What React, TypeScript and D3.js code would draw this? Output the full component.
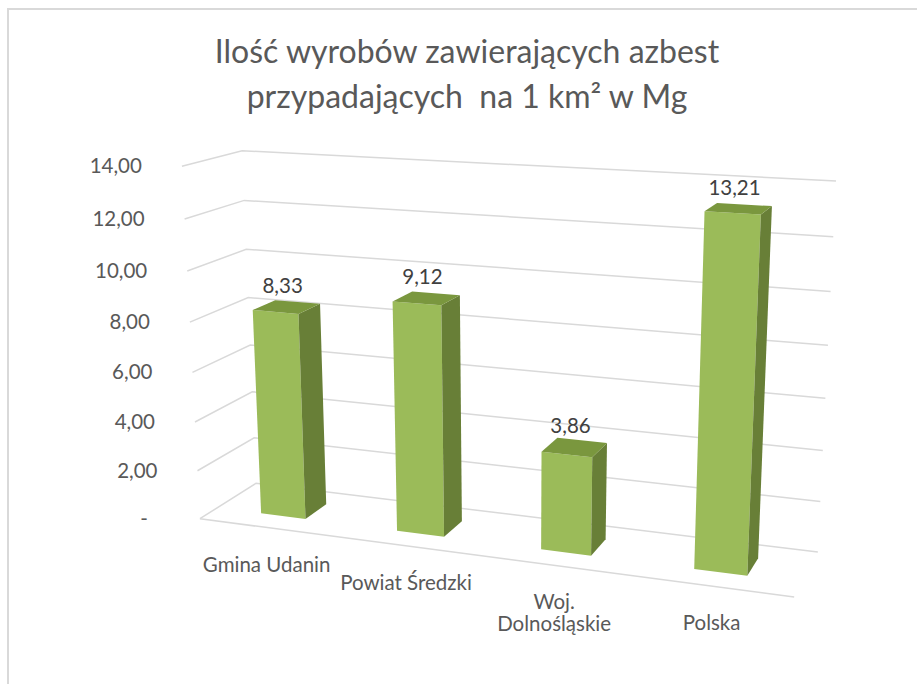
import React, { useEffect, useRef } from 'react'
import * as d3 from 'd3'

const categories = ['Gmina Udanin', 'Powiat Średzki', 'Woj. Dolnośląskie', 'Polska']
const categoryLines = [['Gmina Udanin'], ['Powiat Średzki'], ['Woj.', 'Dolnośląskie'], ['Polska']]
const values = [8.33, 9.12, 3.86, 13.21]
const yTicks = [0, 2, 4, 6, 8, 10, 12, 14]
const titleLines = ['Ilość wyrobów zawierających azbest', 'przypadających  na 1 km² w Mg']

// 3D box corners (X along categories, Y depth, Z height, all 0..1) and where they land on screen
const boxCorners: number[][] = [
  [0, 0, 0, 200, 519],
  [0, 0, 1, 182, 166],
  [0, 1, 0, 256, 483],
  [0, 1, 1, 242, 151],
  [1, 1, 0, 818, 552],
  [1, 1, 1, 836, 181],
  [1, 0, 0, 794, 597]
]

// least squares fit of a 3x4 projection matrix (DLT)
function fitProjection(pts: number[][]) {
  const A: number[][] = []
  const b: number[] = []
  pts.forEach(([X, Y, Z, u, v]) => {
    A.push([X, Y, Z, 1, 0, 0, 0, 0, -u * X, -u * Y, -u * Z]); b.push(u)
    A.push([0, 0, 0, 0, X, Y, Z, 1, -v * X, -v * Y, -v * Z]); b.push(v)
  })
  const n = 11
  const M = d3.range(n).map(i => {
    const row = new Array(n + 1).fill(0)
    for (let j = 0; j < n; j++) for (let k = 0; k < A.length; k++) row[j] += A[k][i] * A[k][j]
    for (let k = 0; k < A.length; k++) row[n] += A[k][i] * b[k]
    return row
  })
  for (let c = 0; c < n; c++) {
    let p = c
    for (let r = c + 1; r < n; r++) if (Math.abs(M[r][c]) > Math.abs(M[p][c])) p = r
    const tmp = M[c]; M[c] = M[p]; M[p] = tmp
    for (let r = 0; r < n; r++) {
      if (r === c) continue
      const f = M[r][c] / M[c][c]
      for (let k = c; k <= n; k++) M[r][k] -= f * M[c][k]
    }
  }
  const p = M.map((row, i) => row[n] / row[i])
  return (X: number, Y: number, Z: number): [number, number] => {
    const w = p[8] * X + p[9] * Y + p[10] * Z + 1
    return [(p[0] * X + p[1] * Y + p[2] * Z + p[3]) / w, (p[4] * X + p[5] * Y + p[6] * Z + p[7]) / w]
  }
}

const locale = d3.formatLocale({ decimal: ',', thousands: ' ', grouping: [3], currency: ['', ' zł'] })
const fmt = locale.format('.2f')

export default function App() {
  const svgRef = useRef<SVGSVGElement>(null)

  useEffect(() => {
    const svg = d3.select(svgRef.current)
    svg.selectAll('*').remove()

    const font = 'Lato, Carlito, Calibri, sans-serif'
    const textColor = '#595959'
    const gridColor = '#d9d9d9'

    const project = fitProjection(boxCorners)
    const z = d3.scaleLinear().domain([0, 14]).range([0, 1])
    const x = d3.scaleBand().domain(categories).range([0, 1]).paddingInner(0.667).paddingOuter(0.3335)
    const depth = [0.3, 0.7]

    // chart frame
    svg.append('rect')
      .attr('x', 8).attr('y', 9).attr('width', 1200).attr('height', 1200)
      .attr('fill', '#fff').attr('stroke', gridColor).attr('stroke-width', 2)

    // title
    svg.append('text')
      .attr('x', 467)
      .attr('y', 63)
      .attr('text-anchor', 'middle')
      .style('font-family', font)
      .style('font-size', '32px')
      .style('fill', textColor)
      .style('white-space', 'pre')
      .selectAll('tspan')
      .data(titleLines)
      .join('tspan')
      .attr('x', 467)
      .attr('dy', (d, i) => (i === 0 ? 0 : 45))
      .text(d => d)

    const line = d3.line<[number, number]>()

    // gridlines on left wall + back wall
    svg.append('g')
      .selectAll('path')
      .data(yTicks)
      .join('path')
      .attr('d', t => line([project(0, 0, z(t)), project(0, 1, z(t)), project(1, 1, z(t))]))
      .attr('fill', 'none')
      .attr('stroke', gridColor)
      .attr('stroke-width', 1.5)

    // floor front edge
    svg.append('path')
      .attr('d', line([project(0, 0, 0), project(1, 0, 0)]))
      .attr('fill', 'none')
      .attr('stroke', gridColor)
      .attr('stroke-width', 1.5)

    // y axis labels
    svg.append('g')
      .selectAll('text')
      .data(yTicks)
      .join('text')
      .attr('x', t => project(0, 0, z(t))[0] - (t === 0 ? 52 : 40))
      .attr('y', t => project(0, 0, z(t))[1] + 7)
      .attr('text-anchor', 'end')
      .style('font-family', font)
      .style('font-size', '20.5px')
      .style('fill', textColor)
      .text(t => (t === 0 ? '-' : fmt(t)))

    // bars
    const bars = svg.append('g')
    categories.forEach((c, i) => {
      const x0 = x(c)!
      const x1 = x0 + x.bandwidth()
      const [y0, y1] = depth
      const h = z(values[i])
      const poly = (pts: number[][]) => 'M' + pts.map(p => project(p[0], p[1], p[2]).join(',')).join('L') + 'Z'

      bars.append('path')
        .attr('d', poly([[x0, y0, 0], [x1, y0, 0], [x1, y0, h], [x0, y0, h]]))
        .attr('fill', '#9bbb59')
      bars.append('path')
        .attr('d', poly([[x1, y0, 0], [x1, y1, 0], [x1, y1, h], [x1, y0, h]]))
        .attr('fill', '#687f37')
      bars.append('path')
        .attr('d', poly([[x0, y0, h], [x1, y0, h], [x1, y1, h], [x0, y1, h]]))
        .attr('fill', '#7a973e')

      const top = project((x0 + x1) / 2, 0.5, h)
      bars.append('text')
        .attr('x', top[0] - 4)
        .attr('y', top[1] - 14)
        .attr('text-anchor', 'middle')
        .style('font-family', font)
        .style('font-size', '20.5px')
        .style('fill', '#404040')
        .text(fmt(values[i]))
    })

    // category labels under the front edge
    svg.append('g')
      .selectAll('text')
      .data(categories)
      .join('text')
      .attr('text-anchor', 'middle')
      .style('font-family', font)
      .style('font-size', '20.5px')
      .style('fill', textColor)
      .each(function (c, i) {
        const p = project(x(c)! + x.bandwidth() / 2, 0, 0)
        d3.select(this)
          .selectAll('tspan')
          .data(categoryLines[i])
          .join('tspan')
          .attr('x', p[0])
          .attr('y', (d, j) => p[1] + 44 + j * 22)
          .text(d => d)
      })
  }, [])

  return (
    <svg ref={svgRef} width={917} height={684} style={{ position: 'absolute', left: 0, top: 0, background: '#fff' }} />
  )
}
